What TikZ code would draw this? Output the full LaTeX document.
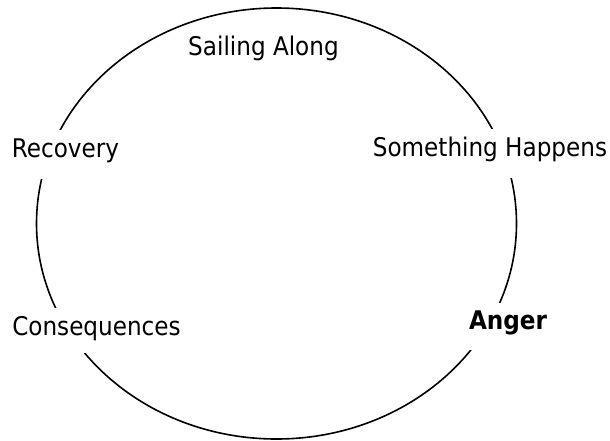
\documentclass[tikz,border=0pt]{standalone}
\usepackage{fontspec}
\setmainfont{DejaVu Sans Condensed}
\usetikzlibrary{shapes.geometric}
\begin{document}
\begin{tikzpicture}[x=1pt,y=-1pt,
  lbl/.style={anchor=base, font=\fontsize{25.7}{30}\selectfont, inner xsep=2pt, inner ysep=0pt},
  gap/.style={lbl, fill=white},
  ring/.style={draw=black, line width=1.6pt}]
\useasboundingbox (0,0) rectangle (610,440);
\node[ring, ellipse, minimum width=480pt, minimum height=431pt, inner sep=0pt] (cycle) at (276.5,223.5) {};
\node[lbl] (sail) at (263.5,55) {Sailing Along};
\node[gap, text height=27.5pt, text depth=21.5pt] (happ) at (490,156.7) {Something Happens};
\node[gap, text height=27.5pt, text depth=21.5pt] (reco) at (65.5,157) {Recovery};
\node[gap, text height=27pt, text depth=18.3pt] (cons) at (96.5,335) {Consequences};
\node[gap, text height=26.3pt, text depth=21pt, font=\fontsize{25.7}{30}\selectfont\bfseries] (ang) at (508,329) {Anger};
\end{tikzpicture}
\end{document}
